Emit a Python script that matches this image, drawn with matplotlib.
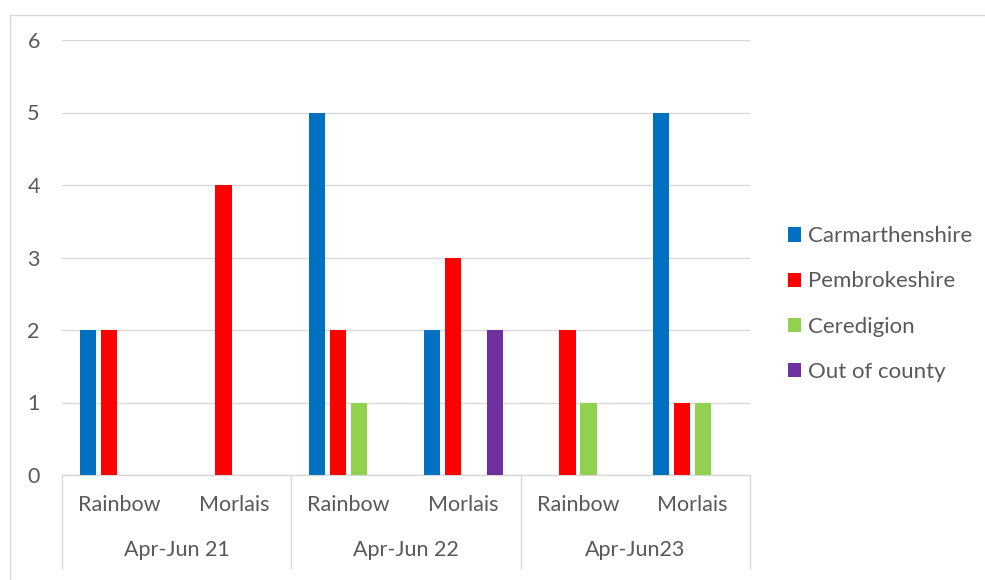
import matplotlib
matplotlib.use('Agg')
import matplotlib.pyplot as plt
from matplotlib.patches import Patch
from matplotlib.lines import Line2D
import numpy as np

plt.rcParams['font.family'] = ['Lato', 'DejaVu Sans']

# data
sites = ['Rainbow', 'Morlais', 'Rainbow', 'Morlais', 'Rainbow', 'Morlais']
quarters = ['Apr-Jun 21', 'Apr-Jun 22', 'Apr-Jun23']
series_names = ['Carmarthenshire', 'Pembrokeshire', 'Ceredigion', 'Out of county']
carmarthenshire = [2, 0, 5, 2, 0, 5]
pembrokeshire = [2, 4, 2, 3, 2, 1]
ceredigion = [0, 0, 1, 0, 1, 1]
out_of_county = [0, 0, 0, 2, 0, 0]
series = [carmarthenshire, pembrokeshire, ceredigion, out_of_county]
colors = ['#0070C0', '#FF0000', '#92D050', '#7030A0']

text_col = '#595959'
grid_col = '#D9D9D9'
fs = 15.5

W, H = 985, 580
fig = plt.figure(figsize=(W / 100, H / 100), dpi=100)
ax = fig.add_axes([62 / W, 1 - 475 / H, (750 - 62) / W, (475 - 40) / H])

x = np.arange(len(sites))
step = 0.183
width = 0.14
for i, (vals, col) in enumerate(zip(series, colors)):
    off = (i - 1.5) * step
    ax.bar(x + off, vals, width=width, color=col, zorder=3, label=series_names[i])

ax.set_xlim(-0.5, len(sites) - 0.5)
ax.set_ylim(0, 6)
ax.set_yticks(range(0, 7))
ax.yaxis.grid(True, color=grid_col, linewidth=1.0, zorder=0)
ax.tick_params(axis='y', length=0, pad=16, labelsize=fs, labelcolor=text_col)
ax.set_xticks([])
for s in ['top', 'right', 'left']:
    ax.spines[s].set_visible(False)
ax.spines['bottom'].set_color(grid_col)
ax.spines['bottom'].set_linewidth(1.0)

# two-level category axis
trans = ax.get_xaxis_transform()
for i, s in enumerate(sites):
    ax.text(i, -0.069, s, transform=trans, ha='center', va='center',
            fontsize=fs, color=text_col)
for g, q in enumerate(quarters):
    ax.text(2 * g + 0.5, -0.172, q, transform=trans, ha='center', va='center',
            fontsize=fs, color=text_col)
for b in [-0.5, 1.5, 3.5, 5.5]:
    ax.add_line(Line2D([b, b], [0, -0.214], transform=trans, color=grid_col,
                       linewidth=1.0, clip_on=False))

# chart border
fig.add_artist(Line2D([10 / W, 10 / W], [0, 1 - 15 / H], color=grid_col, linewidth=1.0))
fig.add_artist(Line2D([10 / W, 1], [1 - 15 / H, 1 - 15 / H], color=grid_col, linewidth=1.0))

handles = [Patch(facecolor=c, edgecolor='none') for c in colors]
leg = fig.legend(handles, series_names, loc='center left',
                 bbox_to_anchor=(768 / W, 1 - 304 / H), frameon=False,
                 handlelength=0.6, handleheight=0.6, handletextpad=0.3,
                 labelspacing=1.13, fontsize=16)
for t in leg.get_texts():
    t.set_color(text_col)

fig.savefig('out.png', dpi=100)
